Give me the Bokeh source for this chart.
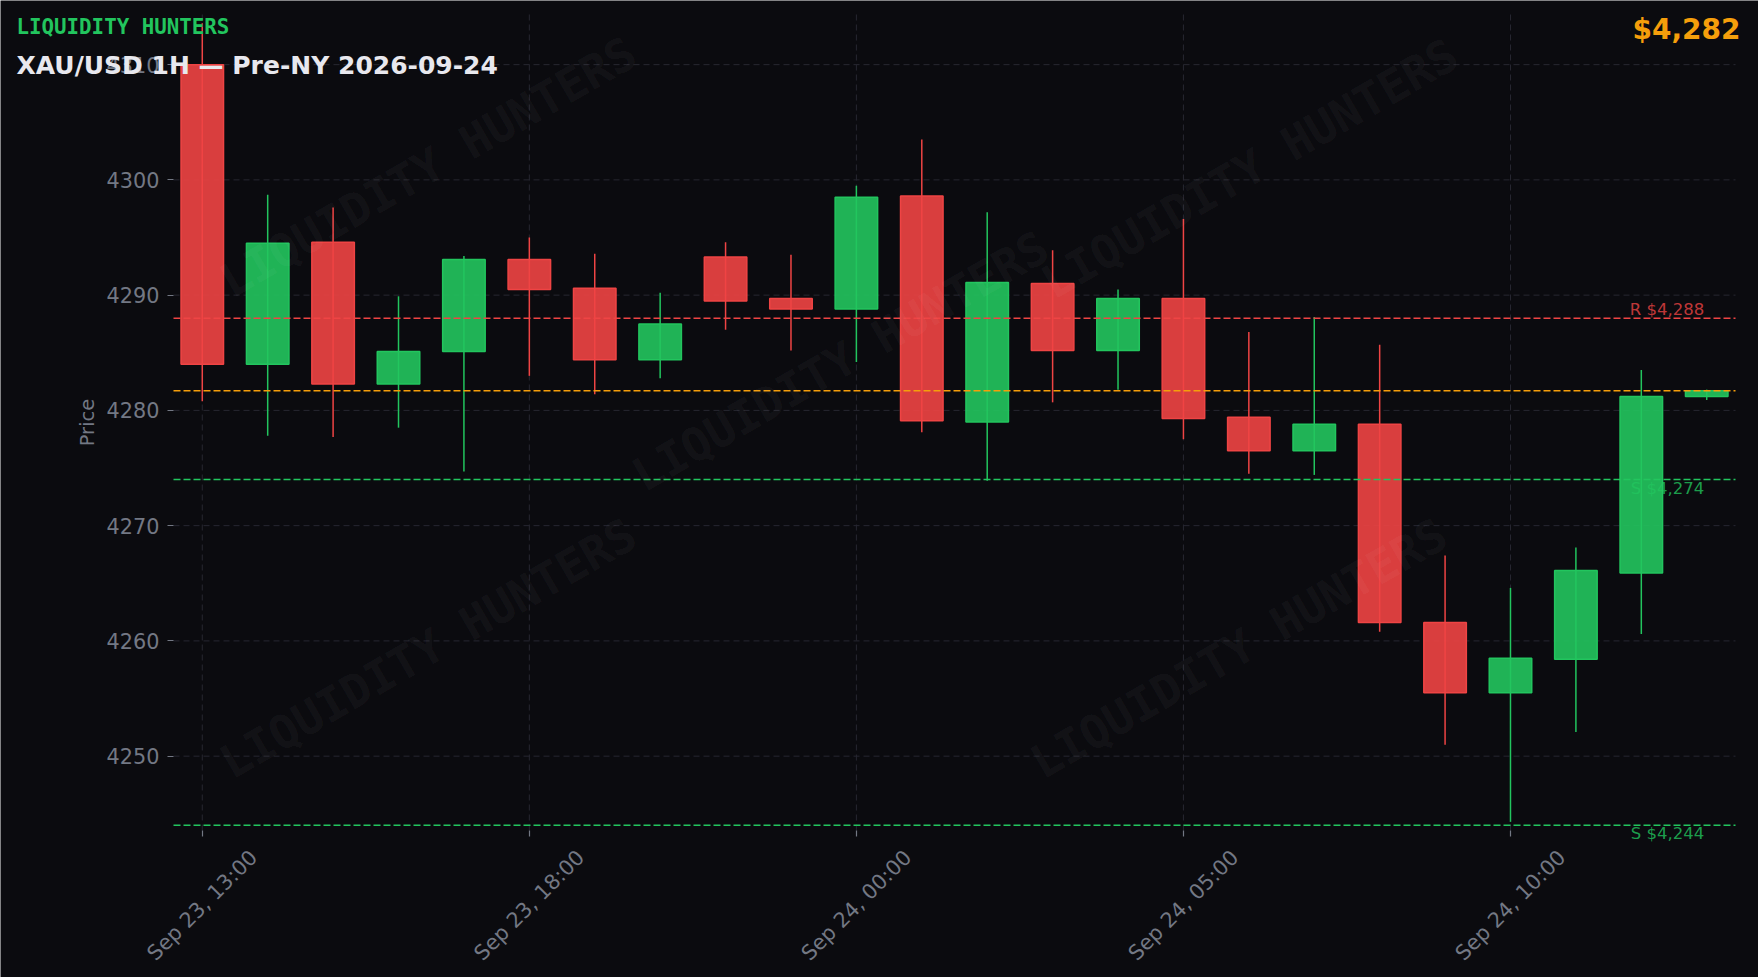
from bokeh.plotting import figure
from bokeh.models import (ColumnDataSource, Range1d, FixedTicker, Label, LabelSet, LinearAxis)
from bokeh.embed import file_html
from bokeh.resources import INLINE
from bokeh.core.properties import value
import pandas as pd

# ---------------- data ----------------
times = pd.to_datetime([
    "2026-09-23 13:00", "2026-09-23 14:00", "2026-09-23 15:00", "2026-09-23 16:00",
    "2026-09-23 17:00", "2026-09-23 18:00", "2026-09-23 19:00", "2026-09-23 20:00",
    "2026-09-23 22:00", "2026-09-23 23:00", "2026-09-24 00:00", "2026-09-24 01:00",
    "2026-09-24 02:00", "2026-09-24 03:00", "2026-09-24 04:00", "2026-09-24 05:00",
    "2026-09-24 06:00", "2026-09-24 07:00", "2026-09-24 08:00", "2026-09-24 09:00",
    "2026-09-24 10:00", "2026-09-24 11:00", "2026-09-24 12:00", "2026-09-24 13:00"])
opens = [4310.0, 4284.0, 4294.6, 4282.3, 4285.1, 4293.1, 4290.6, 4284.4, 4293.3, 4289.7,
         4288.8, 4298.6, 4279.0, 4291.0, 4285.2, 4289.7, 4279.4, 4276.5, 4278.8, 4261.6,
         4255.5, 4258.4, 4265.9, 4281.2]
closes = [4284.0, 4294.5, 4282.3, 4285.1, 4293.1, 4290.5, 4284.4, 4287.5, 4289.5, 4288.8,
          4298.5, 4279.1, 4291.1, 4285.2, 4289.7, 4279.3, 4276.5, 4278.8, 4261.6, 4255.5,
          4258.5, 4266.1, 4281.2, 4281.7]
highs = [4313.6, 4298.7, 4297.6, 4289.9, 4293.4, 4295.0, 4293.6, 4290.2, 4294.6, 4293.5,
         4299.5, 4303.5, 4297.2, 4293.9, 4290.5, 4296.6, 4286.8, 4288.1, 4285.7, 4267.4,
         4264.6, 4268.1, 4283.5, 4281.8]
lows = [4280.8, 4277.8, 4277.7, 4278.5, 4274.7, 4283.0, 4281.4, 4282.8, 4287.0, 4285.2,
        4284.2, 4278.1, 4273.9, 4280.7, 4281.8, 4277.5, 4274.5, 4274.4, 4260.8, 4251.0,
        4244.3, 4252.1, 4260.6, 4280.9]

level_values = [4288, 4274, 4244]
level_kinds = ["R", "S", "S"]

x_tick_idx = [0, 5, 10, 15, 20]
x_tick_labels = [times[i].strftime("%b %d, %H:%M") for i in x_tick_idx]
y_ticks = [4250, 4260, 4270, 4280, 4290, 4300, 4310]

brand_text = "LIQUIDITY HUNTERS"
title_text = "XAU/USD 1H — Pre-NY 2026-09-24"
y_label = "Price"

# ---------------- style / layout ----------------
BG = "#0b0b0f"
GRID = "#272731"
TICK = "#737884"
UP = "#22c55e"
DOWN = "#ef4444"
ORANGE = "#f59e0b"
WHITE = "#e8e8ee"
FONT = "DejaVu Sans"
MONO = "DejaVu Sans Mono"
TICK_FS = "20.8px"

W, H = 1758, 977
ML, MR, MT, MB = 173, 23, 14, 147          # plot-area margins (px)
XA0, XA1 = -0.44, len(opens) - 1 + 0.44    # plot-area x extent (candle index)
pad = 0.75
YA0, YA1 = min(lows) - pad, max(highs) + pad
ppx = (W - ML - MR) / (XA1 - XA0)
ppy = (H - MT - MB) / (YA1 - YA0)
XR0, XR1 = XA0 - ML / ppx, XA1 + MR / ppx
YR0, YR1 = YA0 - MB / ppy, YA1 + MT / ppy


def px2x(px):
    return XR0 + px / ppx


def px2y(py):
    return YR1 - py / ppy


p = figure(width=W, height=H, x_range=Range1d(XR0, XR1), y_range=Range1d(YR0, YR1),
           x_axis_location=None, y_axis_location=None,
           output_backend="svg", toolbar_location=None,
           background_fill_color=BG, border_fill_color=BG,
           min_border=0, min_border_left=0, min_border_right=0,
           min_border_top=0, min_border_bottom=0, outline_line_color=None)
p.center = []   # drop default full-canvas grids

# grid (limited to the plot area)
p.segment(x0=XA0, x1=XA1, y0=y_ticks, y1=y_ticks, line_color=GRID, line_width=1, line_dash="6 4")
p.segment(x0=x_tick_idx, x1=x_tick_idx, y0=YA0, y1=YA1, line_color=GRID, line_width=1, line_dash="6 4")

# axes (fixed at the plot-area edges)
yax = LinearAxis(fixed_location=XA0, ticker=FixedTicker(ticks=y_ticks), axis_label=y_label,
                 bounds=(YA0, YA1))
xax = LinearAxis(fixed_location=YA0, ticker=FixedTicker(ticks=x_tick_idx), bounds=(XA0, XA1),
                 major_label_overrides={i: "" for i in x_tick_idx})
for ax in (xax, yax):
    ax.axis_line_color = None
    ax.major_tick_line_color = TICK
    ax.major_tick_line_width = 1.2
    ax.major_tick_out = 6
    ax.major_tick_in = 0
    ax.minor_tick_line_color = None
    ax.major_label_text_color = TICK
    ax.major_label_text_font = FONT
yax.major_label_text_font_size = TICK_FS
yax.major_label_standoff = 8
yax.axis_label_text_color = TICK
yax.axis_label_text_font = FONT
yax.axis_label_text_font_style = "normal"
yax.axis_label_text_font_size = "19.5px"
yax.axis_label_standoff = 5
p.add_layout(yax, "left")
p.add_layout(xax, "below")

# candles
colors = [UP if c >= o else DOWN for o, c in zip(opens, closes)]
src = ColumnDataSource(dict(
    x=list(range(len(opens))), open=opens, close=closes, high=highs, low=lows,
    top=[max(o, c) for o, c in zip(opens, closes)],
    bottom=[min(o, c) for o, c in zip(opens, closes)],
    color=colors))
p.segment(x0="x", y0="low", x1="x", y1="high", line_color="color", line_width=1.5, source=src)
p.vbar(x="x", width=0.65, top="top", bottom="bottom", fill_color="color", fill_alpha=0.9,
       line_color="color", line_width=1.5, source=src)

# levels
for lv, kind in zip(level_values, level_kinds):
    col = DOWN if kind == "R" else UP
    p.segment(x0=XA0, x1=XA1, y0=lv, y1=lv, line_color=col, line_dash="7 3", line_width=1.5)
p.segment(x0=XA0, x1=XA1, y0=closes[-1], y1=closes[-1], line_color=ORANGE, line_dash="7 3",
          line_width=1.5)

lx = XA0 + 0.98 * (XA1 - XA0)
for lv, kind in zip(level_values, level_kinds):
    col = DOWN if kind == "R" else UP
    p.add_layout(Label(x=lx, y=lv, text=f"{kind} ${lv:,.0f}", text_align="right",
                       text_baseline="alphabetic" if kind == "R" else "top",
                       y_offset=8.5 if kind == "R" else 1,
                       text_color=col, text_alpha=0.8, text_font=FONT, text_font_size="16.5px"))

# watermarks
wm_fx = [0.163, 0.689, 0.427, 0.163, 0.682]
wm_fy = [0.813, 0.811, 0.575, 0.223, 0.223]
wm_src = ColumnDataSource(dict(
    x=[XA0 + f * (XA1 - XA0) for f in wm_fx],
    y=[YA0 + f * (YA1 - YA0) for f in wm_fy],
    t=[brand_text] * len(wm_fx)))
p.text(x="x", y="y", text="t", source=wm_src, angle=30, angle_units="deg",
       text_font=value(MONO), text_font_style="bold", text_font_size="46px",
       text_color="#ffffff", text_alpha=0.055, text_align="center", text_baseline="middle")

# x tick labels (centered under ticks, rotated 45 degrees)
xt_src = ColumnDataSource(dict(x=x_tick_idx, label=x_tick_labels,
                               y=[YA0 - 74.8 / ppy] * len(x_tick_idx)))
p.add_layout(LabelSet(x="x", y="y", text="label", source=xt_src,
                      angle=45, angle_units="deg", text_align="center", text_baseline="middle",
                      text_color=TICK, text_font=value(FONT), text_font_size=value(TICK_FS)))

# header texts
p.add_layout(Label(x=px2x(16), y=px2y(26.3), text=brand_text,
                   text_color=UP, text_font=MONO, text_font_style="bold", text_font_size="20.8px",
                   text_baseline="alphabetic"))
p.add_layout(Label(x=px2x(16), y=px2y(65.0), text=title_text,
                   text_color=WHITE, text_font=FONT, text_font_style="bold", text_font_size="25px",
                   text_baseline="alphabetic"))
p.add_layout(Label(x=px2x(1740), y=px2y(29.0), text=f"${closes[-1]:,.0f}",
                   text_color=ORANGE, text_font=FONT, text_font_style="bold", text_font_size="28px",
                   text_align="right", text_baseline="alphabetic"))

open("out.html", "w").write(file_html(p, INLINE))
